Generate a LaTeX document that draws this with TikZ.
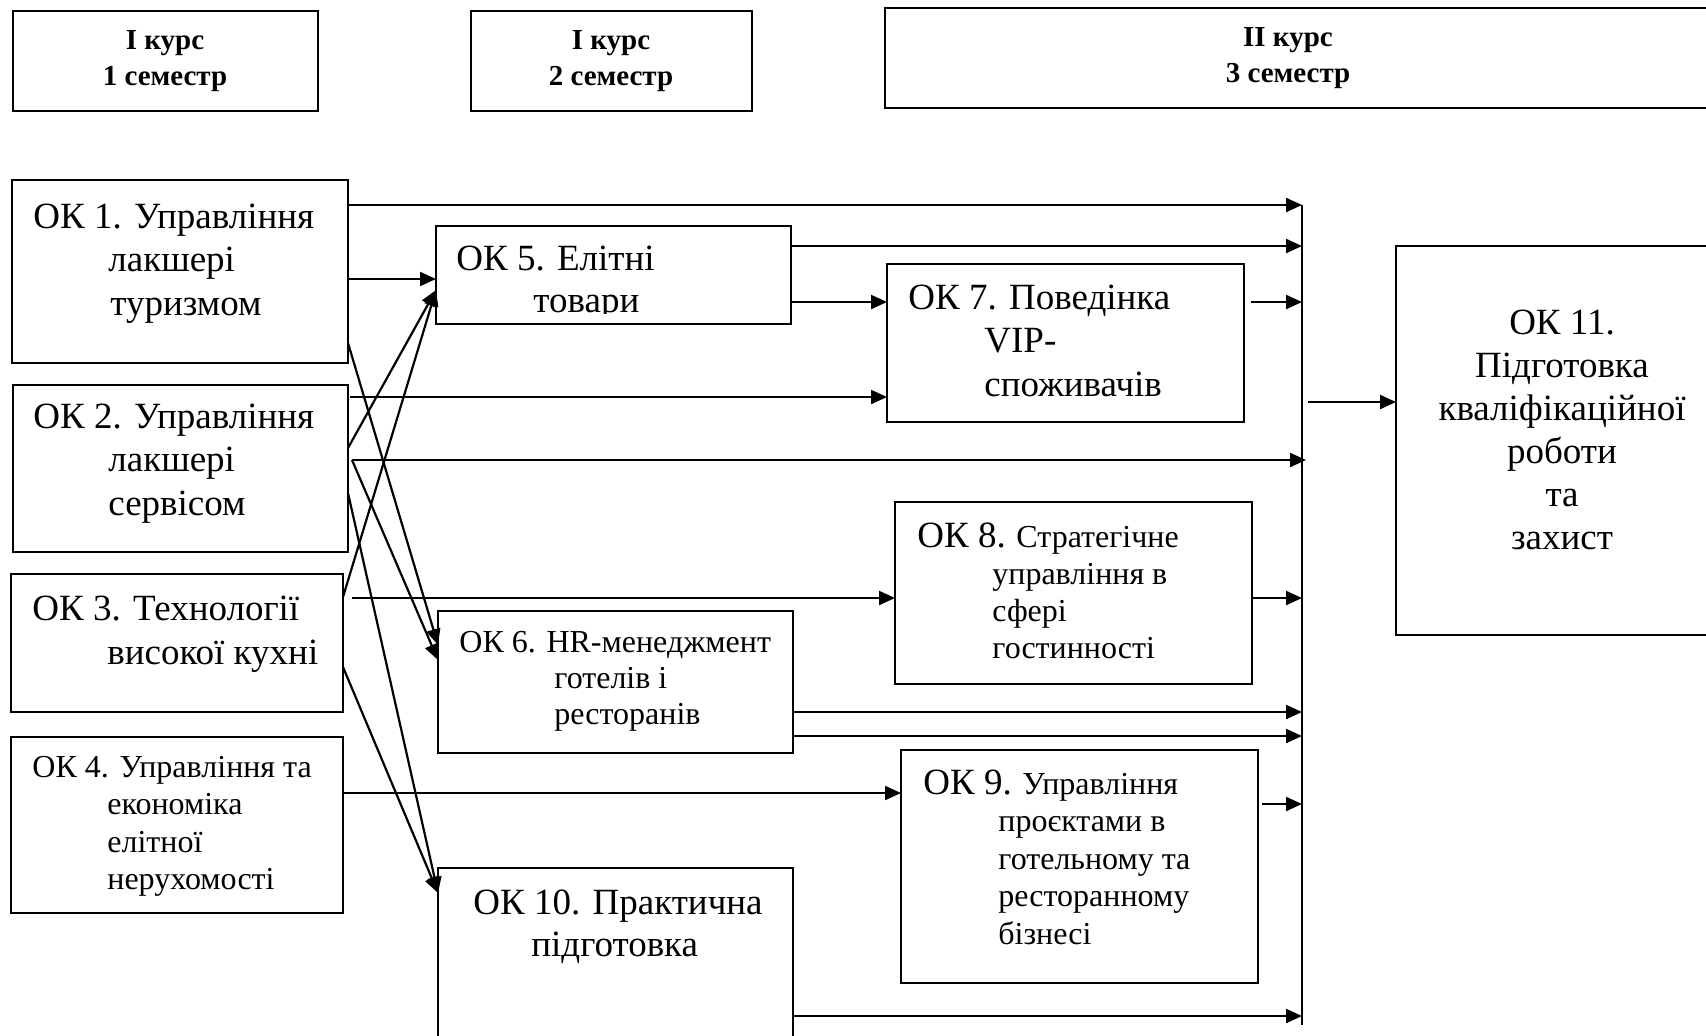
\documentclass[tikz,border=0pt]{standalone}
\usepackage{fontspec}
\setmainfont{Liberation Serif}
\usetikzlibrary{arrows.meta,calc}
\begin{document}
\begin{tikzpicture}[x=0.5pt,y=-0.5pt,
  box/.style={draw,line width=1pt,anchor=north west,inner sep=0pt,outer sep=0pt},
  con/.style={line width=1.1pt},
  arr/.style={line width=1.1pt,-{Triangle[length=8pt,width=7pt]}},
  txt/.style={anchor=base west,inner sep=0pt},
  ctxt/.style={anchor=base,inner sep=0pt},
  hdr/.style={font=\bfseries\fontsize{14.5}{18}\selectfont},
  bigf/.style={font=\fontsize{18.5}{21.75}\selectfont},
  smallf/.style={font=\fontsize{16}{18.5}\selectfont}
]
\useasboundingbox (0,0) rectangle (1706,1035);
\clip (0,0) rectangle (1706,1035);

% header boxes
\node[box,minimum width=152.5pt,minimum height=50pt] (h1) at (13,11) {};
\node[box,minimum width=140.5pt,minimum height=50pt] (h2) at (471,11) {};
\node[box,minimum width=422.5pt,minimum height=50pt] (h3) at (885,8) {};
\node[ctxt,hdr] (h1t) at (165,49) {\begin{tabular}[t]{@{}c@{}}I курс\\1 семестр\end{tabular}};
\node[ctxt,hdr] (h2t) at (611,49) {\begin{tabular}[t]{@{}c@{}}I курс\\2 семестр\end{tabular}};
\node[ctxt,hdr] (h3t) at (1288,46) {\begin{tabular}[t]{@{}c@{}}II курс\\3 семестр\end{tabular}};

% course boxes
\node[box,minimum width=168pt,minimum height=91.5pt] (ok1) at (12,180) {};
\node[box,minimum width=167.5pt,minimum height=83.5pt] (ok2) at (13,385) {};
\node[box,minimum width=166pt,minimum height=69pt] (ok3) at (11,574) {};
\node[box,minimum width=166pt,minimum height=88pt] (ok4) at (11,737) {};
\node[box,minimum width=177.5pt,minimum height=49pt] (ok5) at (436,226) {};
\node[box,minimum width=177.5pt,minimum height=71pt] (ok6) at (438,611) {};
\node[box,minimum width=177.5pt,minimum height=100pt] (ok10) at (438,868) {};
\node[box,minimum width=178.5pt,minimum height=79pt] (ok7) at (887,264) {};
\node[box,minimum width=178.5pt,minimum height=91pt] (ok8) at (895,502) {};
\node[box,minimum width=178.5pt,minimum height=116.5pt] (ok9) at (901,750) {};
\node[box,minimum width=170pt,minimum height=194.5pt] (ok11) at (1396,246) {};

% texts
\node[txt,bigf] (ok1t) at (33,228) {\begin{tabular}[t]{@{}l@{}}ОК 1. Управління\\\hspace*{37.5pt}лакшері\\\hspace*{38.5pt}туризмом\end{tabular}};
\node[txt,bigf] (ok2t) at (33,428) {\begin{tabular}[t]{@{}l@{}}ОК 2. Управління\\\hspace*{37.5pt}лакшері\\\hspace*{37.5pt}сервісом\end{tabular}};
\node[txt,font=\fontsize{18.5}{22}\selectfont] (ok3t) at (32,620) {\begin{tabular}[t]{@{}l@{}}ОК 3. Технології\\\hspace*{37.5pt}високої кухні\end{tabular}};
\node[txt,font=\fontsize{16}{18.75}\selectfont] (ok4t) at (32,777) {\begin{tabular}[t]{@{}l@{}}ОК 4. Управління та\\\hspace*{37.5pt}економіка\\\hspace*{37.5pt}елітної\\\hspace*{37.5pt}нерухомості\end{tabular}};
\begin{scope}
\clip (436,226) rectangle (791,313);
\node[txt,font=\fontsize{18.5}{21}\selectfont] (ok5t) at (456,270) {\begin{tabular}[t]{@{}l@{}}ОК 5. Елітні\\\hspace*{38.5pt}товари\end{tabular}};
\end{scope}
\node[txt,font=\fontsize{16}{18}\selectfont] (ok6t) at (459,652) {\begin{tabular}[t]{@{}l@{}}ОК 6. HR-менеджмент\\\hspace*{47.5pt}готелів і\\\hspace*{47.5pt}ресторанів\end{tabular}};
\node[txt,bigf] (ok7t) at (908,309) {\begin{tabular}[t]{@{}l@{}}ОК 7. Поведінка\\\hspace*{38pt}VIP-\\\hspace*{38pt}споживачів\end{tabular}};
\node[txt,smallf] (ok8t) at (917,547) {\begin{tabular}[t]{@{}l@{}}{\fontsize{18.5}{18.5}\selectfont ОК 8.} Стратегічне\\\hspace*{37.5pt}управління в\\\hspace*{37.5pt}сфері\\\hspace*{37.5pt}гостинності\end{tabular}};
\node[txt,font=\fontsize{16}{18.75}\selectfont] (ok9t) at (923,794) {\begin{tabular}[t]{@{}l@{}}{\fontsize{18.5}{18.75}\selectfont ОК 9.} Управління\\\hspace*{37.5pt}проєктами в\\\hspace*{37.5pt}готельному та\\\hspace*{37.5pt}ресторанному\\\hspace*{37.5pt}бізнесі\end{tabular}};
\node[txt,font=\fontsize{18.5}{21}\selectfont] (ok10t) at (473,914) {\begin{tabular}[t]{@{}l@{}}ОК 10. Практична\\\hspace*{29pt}підготовка\end{tabular}};
\node[ctxt,font=\fontsize{18.5}{21.5}\selectfont] (ok11t) at (1562,334) {\begin{tabular}[t]{@{}c@{}}ОК 11.\\Підготовка\\кваліфікаційної\\роботи\\та\\захист\end{tabular}};

% bus
\coordinate (bt) at (1302,205);
\coordinate (bb) at (1302,1025);
\draw[con] (bt) -- (bb);

% arrows to bus
\draw[arr] (ok1.east |- 0,205) -- (bt);
\draw[arr] (ok5.east |- 0,246) -- (bt |- 0,246);
\draw[arr] ($(ok7.east |- 0,302)+(7,0)$) -- (bt |- 0,302);
\draw[arr] ($(ok2.east |- 0,460)+(4,0)$) -- ($(bt |- 0,460)+(4,0)$);
\draw[arr] (ok8.east |- 0,598) -- (bt |- 0,598);
\draw[arr] (ok6.east |- 0,712) -- (bt |- 0,712);
\draw[arr] (ok6.east |- 0,736) -- (bt |- 0,736);
\draw[arr] ($(ok9.east |- 0,804)+(4,0)$) -- (bt |- 0,804);
\draw[arr] (ok10.east |- 0,1016) -- (bt |- 0,1016);
\draw[arr] ($(bt |- 0,402)+(6,0)$) -- (ok11.west |- 0,402);

% horizontal arrows
\draw[arr] (ok1.east |- 0,279) -- (ok5.west |- 0,279);
\draw[arr] (ok5.east |- 0,302) -- (ok7.west |- 0,302);
\draw[arr] ($(ok2.east |- 0,397)+(2,0)$) -- (ok7.west |- 0,397);
\draw[arr] ($(ok3.east |- 0,598)+(9,0)$) -- (ok8.west |- 0,598);
\draw[arr] (ok4.east |- 0,793) -- (ok9.west |- 0,793);

% diagonal arrows
\draw[arr] (ok2.east |- 0,448) -- (ok5.west |- 0,290);
\draw[arr] (ok3.east |- 0,597) -- (ok5.west |- 0,290);
\draw[arr] (ok1.east |- 0,343) -- (ok6.west |- 0,645);
\draw[arr] ($(ok2.east |- 0,460)+(4,0)$) -- (ok6.west |- 0,660);
\draw[arr] (ok2.east |- 0,493) -- (ok10.west |- 0,893);
\draw[arr] (ok3.east |- 0,667) -- (ok10.west |- 0,893);
\end{tikzpicture}
\end{document}
